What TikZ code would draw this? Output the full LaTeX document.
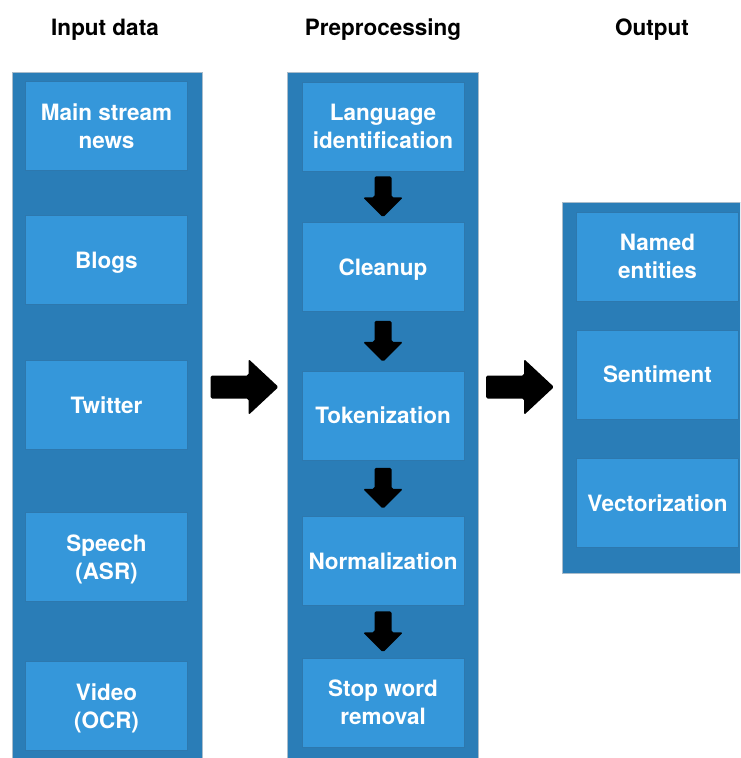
\documentclass[tikz,border=0pt]{standalone}
\usepackage{fontspec}
\setmainfont{TeX Gyre Heros}
\usetikzlibrary{calc}
\definecolor{panelblue}{HTML}{2A7DB7}
\definecolor{boxblue}{HTML}{3597DA}
\definecolor{boxedge}{HTML}{2D78AE}
\definecolor{paneledge}{HTML}{A9BCCB}
\tikzset{
  panel/.style={rectangle, inner sep=0pt, fill=panelblue, draw=paneledge, line width=0.8pt},
  stage/.style={rectangle, fill=boxblue, draw=boxedge, line width=0.8pt,
    minimum width=162pt, minimum height=89pt, inner sep=0pt,
    text=white, align=center, font=\bfseries\fontsize{22.5}{28}\selectfont,
    text depth=0pt},
  header/.style={font=\bfseries\fontsize{22.5}{26}\selectfont, text=black},
  blockarrow/.style={fill=black, rounded corners=1.6pt}
}
% vertical block arrow centred between two nodes
\newcommand\flowdown[2]{%
  \fill[blockarrow] let \p1=($(#1.south)!0.5!(#2.north)$) in
    (\x1-8.5pt,\y1+20.5pt) -- (\x1+8.5pt,\y1+20.5pt) -- (\x1+8.5pt,\y1-0.5pt)
    -- (\x1+20pt,\y1-0.5pt) -- (\x1,\y1-20.5pt) -- (\x1-20pt,\y1-0.5pt)
    -- (\x1-8.5pt,\y1-0.5pt) -- cycle;}
% horizontal block arrow centred between two panels at a given height
\newcommand\flowright[3]{%
  \fill[blockarrow] let \p1=($(#1.east)!0.5!(#2.west)$), \p2=(#3) in
    (\x1-34pt,\y2+11.5pt) -- (\x1+4pt,\y2+11.5pt) -- (\x1+4pt,\y2+28pt)
    -- (\x1+34pt,\y2) -- (\x1+4pt,\y2-28pt) -- (\x1+4pt,\y2-11.5pt)
    -- (\x1-34pt,\y2-11.5pt) -- cycle;}
\begin{document}
\begin{tikzpicture}[x=1pt,y=-1pt]
\useasboundingbox (0,0) rectangle (740,758);
\begin{scope}
\clip (0,0) rectangle (740,758);
% panels
\node[panel, minimum width=190pt, minimum height=700pt] (inpanel) at (107,422) {};
\node[panel, minimum width=191pt, minimum height=700pt] (prepanel) at (382.5,422) {};
\node[panel, minimum width=200pt, minimum height=371pt] (outpanel) at (662,387.5) {};
% headers
\node[header] (h1) at (105,29.5) {Input data};
\node[header] (h2) at (383,29.5) {Preprocessing};
\node[header] (h3) at (652,29.5) {Output};
% input boxes
\node[stage] (news)   at (106.5,126) {Main stream\\news};
\node[stage] (blogs)  at (106.5,260) {Blogs};
\node[stage] (tw)     at (106.5,405) {Twitter};
\node[stage] (speech) at (106.5,557) {Speech\\(ASR)};
\node[stage] (video)  at (106.5,706) {Video\\(OCR)};
% preprocessing boxes
\node[stage] (lang)  at (383,126.5) {Language\\identification};
\node[stage] (clean) at (383,267) {Cleanup};
\node[stage] (tok)   at (383,415.5) {Tokenization};
\node[stage] (norm)  at (383,561) {Normalization};
\node[stage] (stop)  at (383,702.5) {Stop word\\removal};
% output boxes
\node[stage] (ner)  at (657.5,256.5) {Named\\entities};
\node[stage] (sent) at (657.5,374.5) {Sentiment};
\node[stage] (vec)  at (657.5,503) {Vectorization};
\end{scope}
% arrows
\coordinate (mid) at (0,387);
\flowdown{lang}{clean}
\flowdown{clean}{tok}
\flowdown{tok}{norm}
\flowdown{norm}{stop}
\flowright{inpanel}{prepanel}{mid}
\flowright{prepanel}{outpanel}{mid}
\end{tikzpicture}
\end{document}
